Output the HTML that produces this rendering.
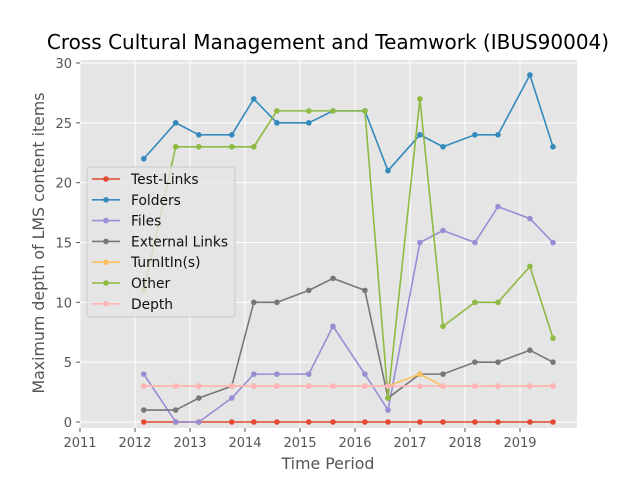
<!DOCTYPE html>
<html><head><meta charset="utf-8"><style>
body{margin:0;background:#fff;font-family:"DejaVu Sans","Liberation Sans",sans-serif}
svg text{font-family:"DejaVu Sans","Liberation Sans",sans-serif}
</style></head><body>
<svg id="c" width="640" height="480" xmlns="http://www.w3.org/2000/svg">
<rect width="640" height="480" fill="#fff"/>
<text x="328" y="49" font-size="20" text-anchor="middle">Cross Cultural Management and Teamwork (IBUS90004)</text>
<rect x="80" y="60" width="497" height="368" fill="#e5e5e5"/>
<g id="grid"></g><g id="series"></g>
<text x="328" y="469" font-size="15.8" fill="#555" text-anchor="middle">Time Period</text>
<text transform="translate(44,243) rotate(-90)" font-size="15.8" fill="#555" text-anchor="middle">Maximum depth of LMS content items</text>
<g id="legend"></g>
</svg>
<script>
const years=[2011,2012,2013,2014,2015,2016,2017,2018,2019];
const yTicks=[0,5,10,15,20,25,30];
const dates=[2012.16,2012.74,2013.16,2013.76,2014.16,2014.58,2015.16,2015.6,2016.18,2016.6,2017.18,2017.6,2018.18,2018.6,2019.18,2019.6];
const testLinks=[0,0,0,0,0,0,0,0,0,0,0,0,0,0,0,0];
const folders=[22,25,24,24,27,25,25,26,26,21,24,23,24,24,29,23];
const files=[4,0,0,2,4,4,4,8,4,1,15,16,15,18,17,15];
const externalLinks=[1,1,2,3,10,10,11,12,11,2,4,4,5,5,6,5];
const turnitin=[3,3,3,3,3,3,3,3,3,3,4,3,3,3,3,3];
const other=[11,23,23,23,23,26,26,26,26,2,27,8,10,10,13,7];
const depth=[3,3,3,3,3,3,3,3,3,3,3,3,3,3,3,3];
const names=["Test-Links","Folders","Files","External Links","TurnItIn(s)","Other","Depth"];
const colors=["#e24a33","#348abd","#988ed5","#777777","#fbc15e","#8eba42","#ffb5b8"];
const all=[testLinks,folders,files,externalLinks,turnitin,other,depth];
const NS="http://www.w3.org/2000/svg";
const X=v=>80+(v-2011)*55, Y=v=>422-v*(359/30);
function mk(t,a,p){const e=document.createElementNS(NS,t);for(const k in a)e.setAttribute(k,a[k]);p.appendChild(e);return e;}
const g=document.getElementById('grid'),svg=document.getElementById('c');
years.forEach(y=>{const l=mk('line',{x1:X(y),x2:X(y),y1:60,y2:428,stroke:'#fff'},g);


mk('line',{x1:X(y),x2:X(y),y1:428,y2:432,stroke:'#555'},svg);
const t=mk('text',{x:X(y),y:447,'font-size':13,fill:'#555','text-anchor':'middle'},svg);t.textContent=y;

});
yTicks.forEach(v=>{const l=mk('line',{x1:80,x2:577,y1:Y(v),y2:Y(v),stroke:'#fff'},g);


mk('line',{x1:76,x2:80,y1:Y(v),y2:Y(v),stroke:'#555'},svg);
const t=mk('text',{x:72,y:Y(v)+5,'font-size':13,fill:'#555','text-anchor':'end'},svg);t.textContent=v;

});
const s=document.getElementById('series');
all.forEach((d,i)=>{const gg=mk('g',{},s);


mk('polyline',{points:d.map((v,j)=>X(dates[j])+','+Y(v)).join(' '),fill:'none',stroke:colors[i],'stroke-width':1.6},gg);
d.forEach((v,j)=>{const c=mk('circle',{cx:X(dates[j]),cy:Y(v),r:2.8,fill:colors[i]},gg);

});});
const lg=document.getElementById('legend');
mk('rect',{x:87,y:167,width:148,height:150,rx:3,fill:'#e5e5e5','fill-opacity':0.8,stroke:'#ccc'},lg);
names.forEach((n,i)=>{const y=179+i*20.8;
const e=mk('g',{},lg);


mk('line',{x1:92,x2:120,y1:y,y2:y,stroke:colors[i],'stroke-width':1.6},e);
mk('circle',{cx:106,cy:y,r:2.8,fill:colors[i]},e);
const t=mk('text',{x:131,y:y+5,'font-size':13.8,fill:'#111'},e);t.textContent=n;});
</script>
</body></html>
